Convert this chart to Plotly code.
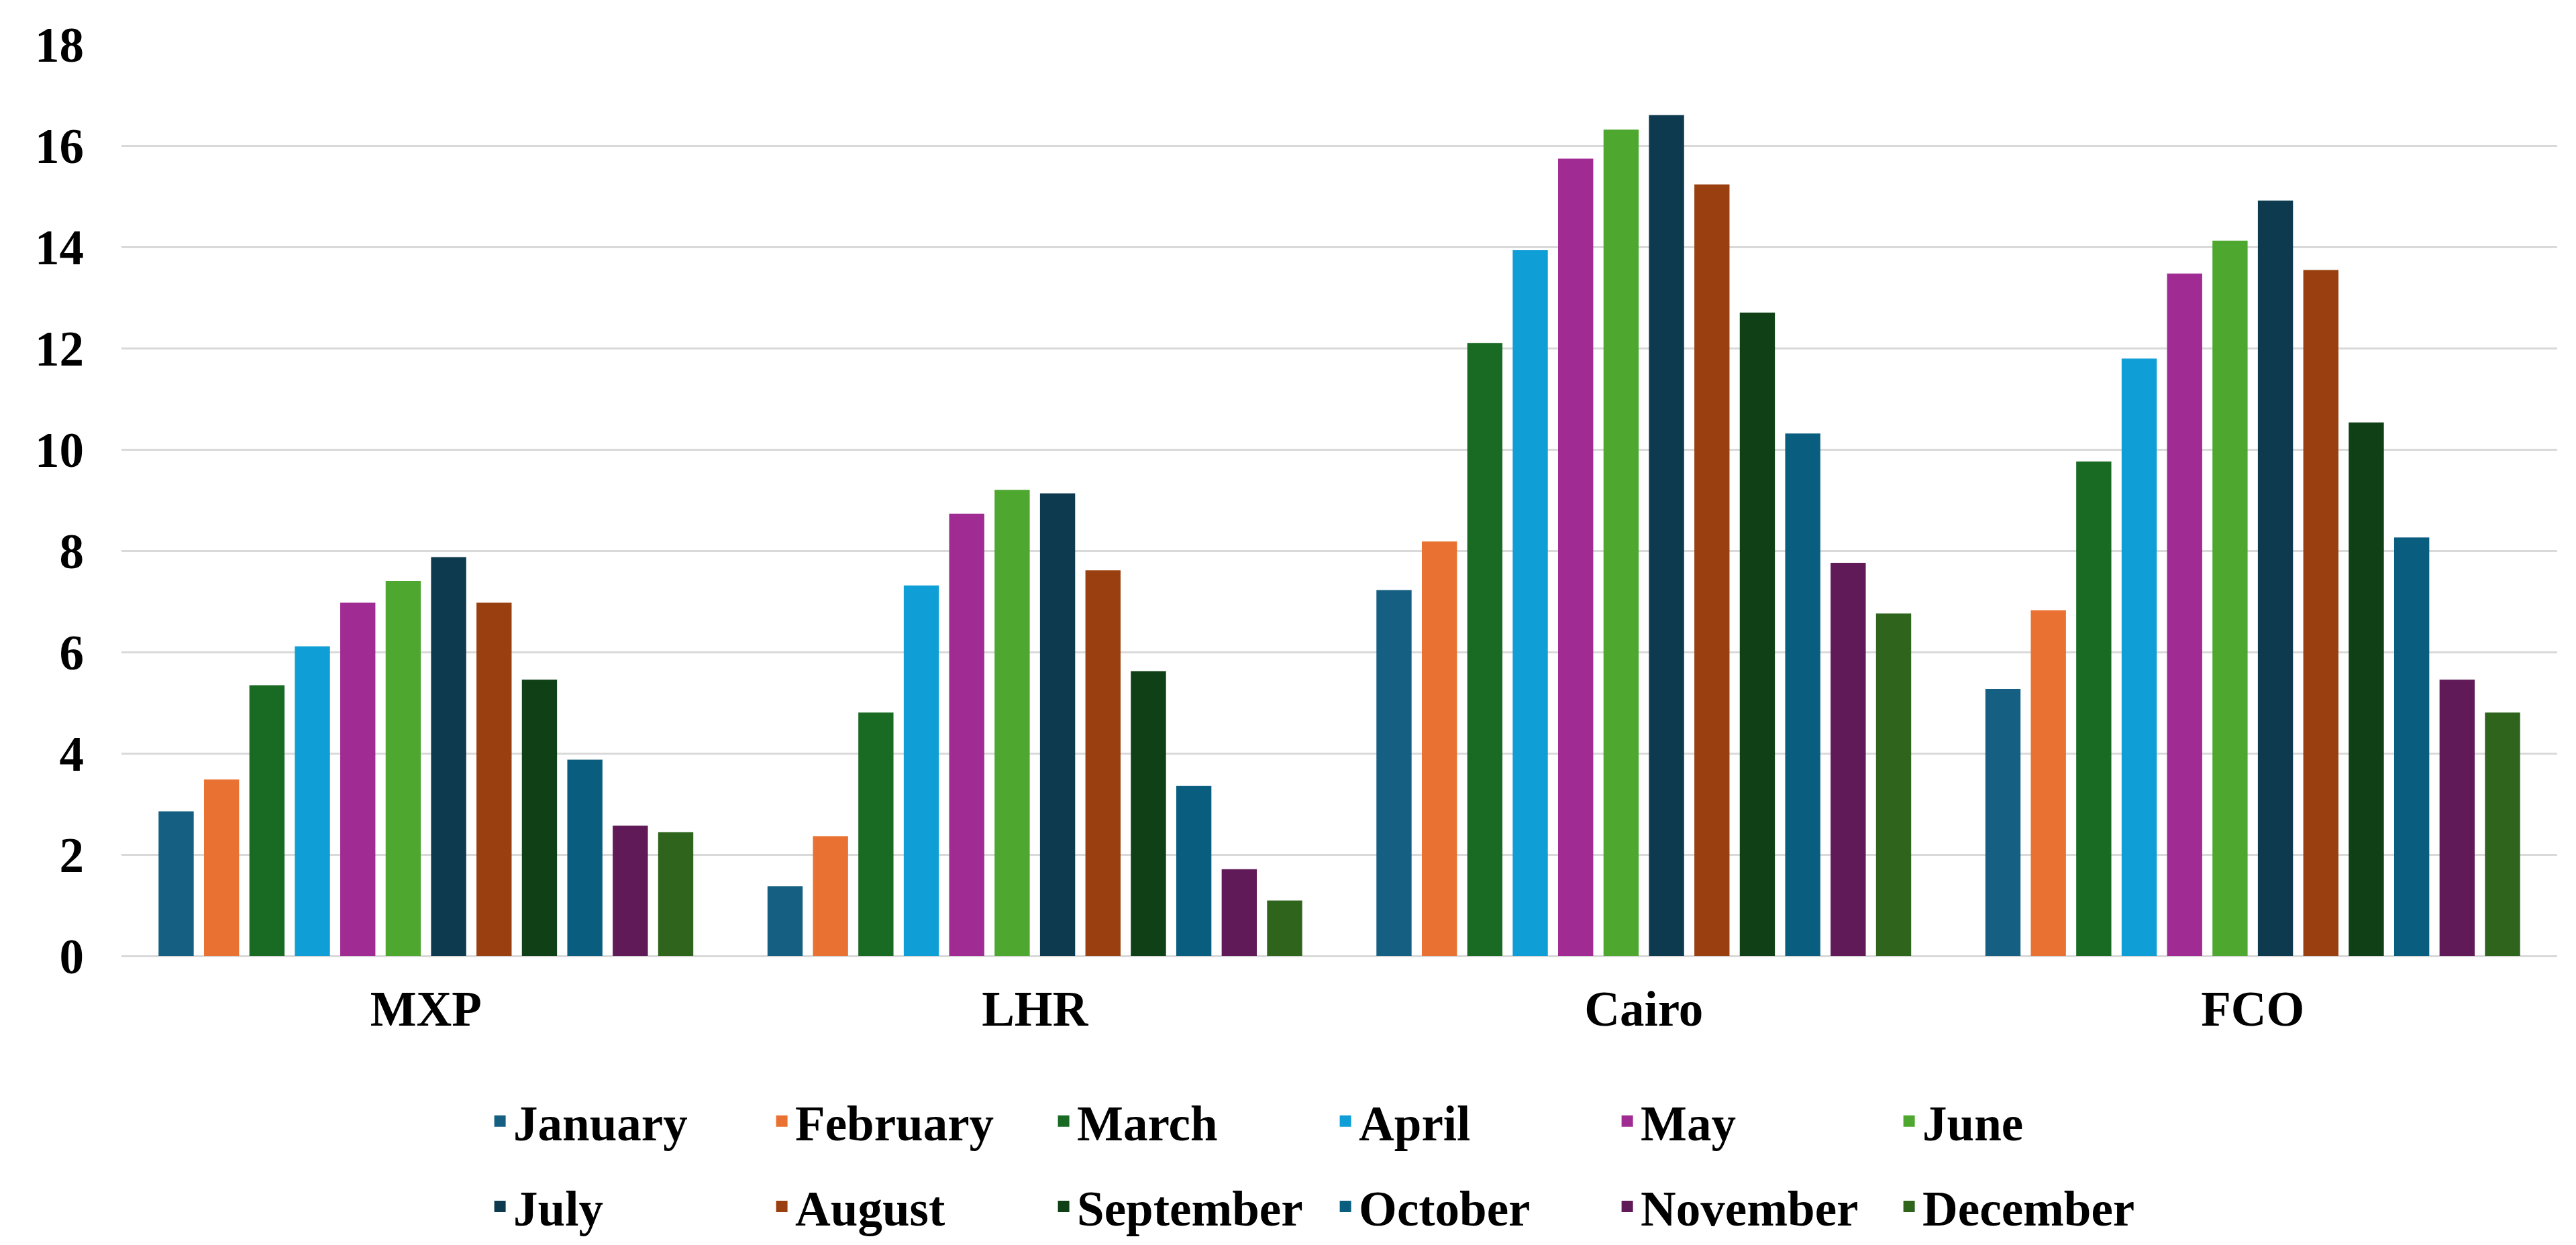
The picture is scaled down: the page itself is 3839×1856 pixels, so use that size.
import plotly.graph_objects as go

airports = ["MXP", "LHR", "Cairo", "FCO"]
months = ["January", "February", "March", "April", "May", "June",
          "July", "August", "September", "October", "November", "December"]

mxp = [2.82, 3.45, 5.31, 6.08, 6.94, 7.37, 7.84, 6.94, 5.42, 3.84, 2.54, 2.41]
lhr = [1.34, 2.33, 4.77, 7.28, 8.70, 9.17, 9.10, 7.58, 5.59, 3.32, 1.68, 1.06]
cairo = [7.19, 8.15, 12.07, 13.90, 15.71, 16.28, 16.57, 15.20, 12.67, 10.28, 7.73, 6.73]
fco = [5.24, 6.79, 9.73, 11.76, 13.44, 14.09, 14.88, 13.51, 10.50, 8.23, 5.42, 4.77]

colors = ["#156082", "#E97132", "#196B24", "#0F9ED5", "#A02B93", "#4EA72E",
          "#0D3A4E", "#9A4010", "#0F4016", "#095E80", "#601A58", "#2F641C"]

y_ticks = [0, 2, 4, 6, 8, 10, 12, 14, 16, 18]

FONT = "Liberation Serif, Times New Roman, serif"
FS = 73

fig = go.Figure()
series = [mxp, lhr, cairo, fco]
for i, m in enumerate(months):
    fig.add_trace(go.Bar(
        x=airports,
        y=[s[i] for s in series],
        name=m,
        marker=dict(color=colors[i], line=dict(width=5, color=colors[i])),
        legend="legend" if i < 6 else "legend2",
    ))

legend_common = dict(
    orientation="h",
    xanchor="center",
    x=0.497,
    yanchor="middle",
    entrywidth=375,
    entrywidthmode="pixels",
    font=dict(family=FONT, size=FS, color="black", weight="bold"),
    bgcolor="rgba(0,0,0,0)",
    itemclick=False,
    itemdoubleclick=False,
)

fig.update_layout(
    width=3839,
    height=1856,
    margin=dict(l=173, r=36, t=58, b=430),
    paper_bgcolor="white",
    plot_bgcolor="white",
    barmode="group",
    bargap=0.105,
    bargroupgap=0.30,
    font=dict(family=FONT, size=FS, color="black", weight="bold"),
    showlegend=True,
    legend=dict(y=-(1674 - 1426) / 1368, **legend_common),
    legend2=dict(y=-(1802 - 1426) / 1368, **legend_common),
    xaxis=dict(
        showgrid=False,
        showline=False,
        ticks="",
        ticklabelstandoff=30,
        tickfont=dict(family=FONT, size=FS, color="black", weight="bold"),
    ),
    yaxis=dict(
        range=[0, 18],
        tickvals=y_ticks,
        showgrid=True,
        gridcolor="#D9D9D9",
        gridwidth=3,
        zeroline=True,
        zerolinecolor="#D9D9D9",
        zerolinewidth=3,
        showline=False,
        ticks="",
        ticklabelstandoff=55,
        tickfont=dict(family=FONT, size=FS, color="black", weight="bold"),
    ),
)

fig.write_html("out.html")
